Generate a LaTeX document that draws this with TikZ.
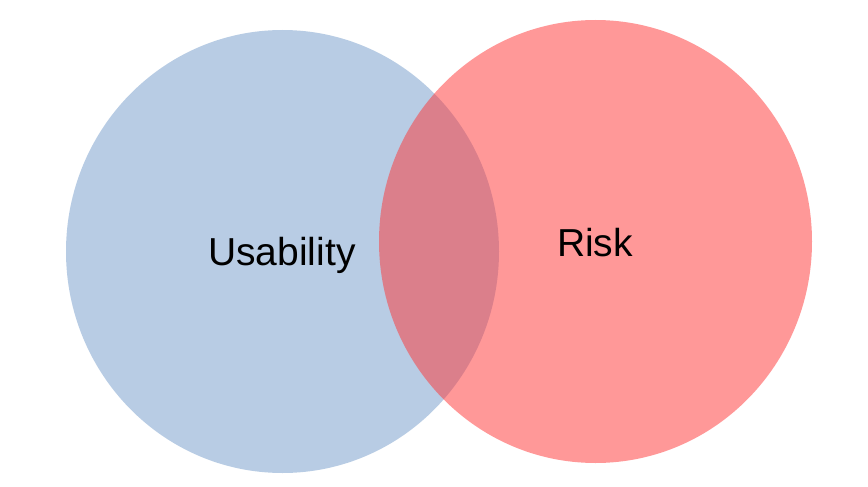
\documentclass[tikz,border=0pt]{standalone}
\usepackage{fontspec}
\setmainfont{Liberation Sans}
\definecolor{vblue}{HTML}{4F81BD}
\definecolor{vred}{HTML}{FF3333}
\begin{document}
\begin{tikzpicture}[x=1pt,y=-1pt,
  setlabel/.style={font=\fontsize{39}{47}\selectfont, text=black}]
\useasboundingbox (0,0) rectangle (868,487);
\fill[white] (0,0) rectangle (868,487);
\path[fill=vblue, fill opacity=0.4] (282.5,251.5) ellipse [x radius=216.5, y radius=221.5];
\path[fill=vred, fill opacity=0.5] (595.5,241.5) ellipse [x radius=216.5, y radius=221.5];
\node[setlabel] (usab) at (282,255) {Usability};
\node[setlabel] (risk) at (595,243) {Risk};
\end{tikzpicture}
\end{document}
